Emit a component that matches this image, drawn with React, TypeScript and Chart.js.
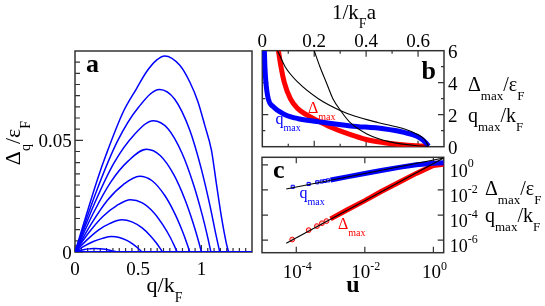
import React, { useEffect, useRef } from 'react';
import { Chart, registerables } from 'chart.js';
Chart.register(...registerables);

const W = 545;
const H = 306;
const FONT = '"Liberation Serif", "Times New Roman", "DejaVu Serif", serif';
const FRAME = '#333333';
const BLUE = '#0000ff';
const RED = '#ff0000';

// ---------- Panel a: Δ_q/ε_F versus q/k_F ----------
const A_Q1 = [0, 0.1775, 0.245, 0.381, 0.487, 0.566, 0.645, 0.71, 0.829, 0.908, 0.973, 1.026, 1.079, 1.118, 1.158, 1.197, 1.215];
const A_D1 = [0, 0.0325, 0.0434, 0.0627, 0.0732, 0.0807, 0.0859, 0.0878, 0.0836, 0.0761, 0.0672, 0.0568, 0.0456, 0.0307, 0.0158, 0.0039, 0];
const A_Q2 = [0, 0.1675, 0.335, 0.5025, 0.67, 0.789, 0.9075, 0.9995, 1.0688, 1.1163, 1.145];
const A_D2 = [0, 0.0269, 0.0495, 0.0648, 0.0728, 0.0684, 0.0546, 0.0371, 0.0204, 0.0073, 0];
const A_Q3 = [0, 0.155, 0.31, 0.465, 0.62, 0.7338, 0.8475, 0.9385, 1.0068, 1.0523, 1.075];
const A_D3 = [0, 0.0218, 0.04, 0.0523, 0.0588, 0.0553, 0.0441, 0.03, 0.0165, 0.0059, 0];
const A_Q4 = [0, 0.1413, 0.2825, 0.4238, 0.565, 0.6738, 0.7825, 0.8695, 0.9348, 0.9783, 1.0];
const A_D4 = [0, 0.017, 0.0313, 0.0409, 0.046, 0.0432, 0.0345, 0.0235, 0.0129, 0.0046, 0];
const A_Q5 = [0, 0.1275, 0.255, 0.3825, 0.51, 0.6095, 0.709, 0.7886, 0.8483, 0.8881, 0.908];
const A_D5 = [0, 0.0125, 0.0231, 0.0302, 0.0339, 0.0319, 0.0254, 0.0173, 0.0095, 0.0034, 0];
const A_Q6 = [0, 0.11, 0.22, 0.33, 0.44, 0.532, 0.624, 0.6976, 0.7528, 0.7896, 0.808];
const A_D6 = [0, 0.0087, 0.0159, 0.0208, 0.0234, 0.022, 0.0176, 0.0119, 0.0066, 0.0023, 0];
const A_Q7 = [0, 0.0925, 0.185, 0.2775, 0.37, 0.4505, 0.531, 0.5954, 0.6437, 0.6759, 0.692];
const A_D7 = [0, 0.0053, 0.0098, 0.0128, 0.0144, 0.0135, 0.0108, 0.0073, 0.004, 0.0014, 0];
const A_Q8 = [0, 0.0725, 0.145, 0.2175, 0.29, 0.35, 0.41, 0.458, 0.494, 0.518, 0.53];
const A_D8 = [0, 0.0026, 0.0047, 0.0061, 0.0069, 0.0065, 0.0052, 0.0035, 0.0019, 0.0007, 0];
const A_Q9 = [0, 0.0375, 0.075, 0.1125, 0.15, 0.195, 0.24, 0.276, 0.303, 0.321, 0.33];
const A_D9 = [0, 0.0006, 0.0011, 0.0014, 0.0016, 0.0015, 0.0012, 0.0008, 0.0004, 0.0002, 0];
const A_ZERO_Q = [0, 1.4];
const A_ZERO_D = [0, 0];
const A_XTICKS = [0, 0.5, 1];
const A_YTICKS = [0, 0.05];

// ---------- Panel b: vs 1/k_F a ----------
const B_QMAX_X = [0.008, 0.01, 0.014, 0.023, 0.042, 0.088, 0.139, 0.21, 0.34, 0.467, 0.55, 0.596, 0.62, 0.635, 0.64];
const B_QMAX_Y = [6.0, 5.0, 4.0, 3.0, 2.5, 2.0, 1.75, 1.58, 1.3, 1.12, 0.88, 0.65, 0.4, 0.15, 0.03];
const B_DMAX_X = [0.062, 0.072, 0.085, 0.108, 0.135, 0.17, 0.21, 0.26, 0.34, 0.4, 0.47, 0.55, 0.64];
const B_DMAX_Y = [6, 5, 4, 3, 2.4, 2.0, 1.65, 1.25, 0.75, 0.45, 0.25, 0.1, 0.02];
const B_BLK1_X = [0.059, 0.088, 0.139, 0.216, 0.302, 0.358, 0.448, 0.551, 0.6, 0.625, 0.64];
const B_BLK1_Y = [6, 5, 4, 3, 2.25, 1.9, 1.5, 1.09, 0.75, 0.45, 0.05];
const B_BLK2_X = [0.2, 0.222, 0.247, 0.272, 0.302, 0.339, 0.403, 0.493, 0.596, 0.64];
const B_BLK2_Y = [6, 5, 4, 3, 2.25, 1.5, 0.8, 0.3, 0.06, 0.02];
const B_XTICKS = [0, 0.2, 0.4, 0.6];
const B_YTICKS = [0, 2, 4, 6];

// ---------- Panel c: log-log vs u ----------
const C_QMAX_SPARSE_U = [7.9e-5, 2.3e-4, 4.1e-4, 5.5e-4, 6.8e-4, 8.5e-4];
const C_QMAX_SPARSE_V = [0.0178, 0.03, 0.041, 0.047, 0.052, 0.058];
const C_QMAX_BAND_U = [1e-3, 3e-3, 0.01, 0.03, 0.1, 0.316, 1, 2];
const C_QMAX_BAND_V = [0.063, 0.11, 0.204, 0.36, 0.63, 1.0, 1.35, 1.48];
const C_DMAX_SPARSE_U = [7.6e-5, 2.3e-4, 4.0e-4, 5.6e-4, 7.6e-4];
const C_DMAX_SPARSE_V = [1.12e-6, 6.3e-6, 1.32e-5, 2.24e-5, 3.3e-5];
const C_DMAX_BAND_U = [1e-3, 3e-3, 0.01, 0.03, 0.1, 0.316, 1, 2];
const C_DMAX_BAND_V = [5e-5, 2.5e-4, 1.41e-3, 7.5e-3, 0.0417, 0.209, 0.89, 1.12];
const C_QFIT_U = [5.1e-5, 2];
const C_QFIT_V = [0.012, 3.5];
const C_DFIT_U = [5.1e-5, 2];
const C_DFIT_V = [5.6e-7, 3.5];
const C_XTICKS = [1e-4, 1e-2, 1];
const C_XLABELS = ['-4', '-2', '0'];
const C_YTICKS = [1, 1e-2, 1e-4, 1e-6];
const C_YLABELS = ['0', '-2', '-4', '-6'];

type Kind = 'n' | 'sub' | 'sup';
type Seg = [string, Kind];

function drawRich(ctx: CanvasRenderingContext2D, segs: Seg[], x: number, y: number, size: number,
  align: 'left' | 'center' | 'right', color: string, bold = false, subOff = 0.45, supOff = 0.48) {
  const fontFor = (k: Kind) => `${bold ? 'bold ' : ''}${k === 'n' ? size : Math.round(size * 0.65)}px ${FONT}`;
  let w = 0;
  for (const [t, k] of segs) { ctx.font = fontFor(k); w += ctx.measureText(t).width; }
  let cx = align === 'left' ? x : align === 'center' ? x - w / 2 : x - w;
  ctx.fillStyle = color;
  ctx.textBaseline = 'alphabetic';
  ctx.textAlign = 'left';
  for (const [t, k] of segs) {
    ctx.font = fontFor(k);
    const dy = k === 'sub' ? size * subOff : k === 'sup' ? -size * supOff : 0;
    ctx.fillText(t, cx, y + dy);
    cx += ctx.measureText(t).width;
  }
}

function drawFrame(c: any) {
  const ctx = c.ctx, a = c.chartArea;
  ctx.strokeStyle = FRAME;
  ctx.lineWidth = 1.5;
  ctx.strokeRect(a.left, a.top, a.right - a.left, a.bottom - a.top);
}

function ticksX(c: any, vals: number[], len: number, top: boolean, bottom: boolean) {
  const ctx = c.ctx, a = c.chartArea, s = c.scales.x;
  ctx.strokeStyle = FRAME; ctx.lineWidth = 1.2;
  ctx.beginPath();
  for (const v of vals) {
    const p = s.getPixelForValue(v);
    if (bottom) { ctx.moveTo(p, a.bottom); ctx.lineTo(p, a.bottom - len); }
    if (top) { ctx.moveTo(p, a.top); ctx.lineTo(p, a.top + len); }
  }
  ctx.stroke();
}

function ticksY(c: any, vals: number[], len: number, left: boolean, right: boolean) {
  const ctx = c.ctx, a = c.chartArea, s = c.scales.y;
  ctx.strokeStyle = FRAME; ctx.lineWidth = 1.2;
  ctx.beginPath();
  for (const v of vals) {
    const p = s.getPixelForValue(v);
    if (left) { ctx.moveTo(a.left, p); ctx.lineTo(a.left + len, p); }
    if (right) { ctx.moveTo(a.right, p); ctx.lineTo(a.right - len, p); }
  }
  ctx.stroke();
}

const pts = (xs: number[], ys: number[]) => xs.map((x, i) => ({ x, y: ys[i] }));
const lineDs = (xs: number[], ys: number[], color: string, width: number, extra: any = {}) => ({
  data: pts(xs, ys), showLine: true, borderColor: color, backgroundColor: color,
  borderWidth: width, pointRadius: 0, fill: false, ...extra,
});

function baseOptions(pad: any, scales: any) {
  return {
    responsive: false, animation: false, devicePixelRatio: 1, events: [],
    layout: { padding: pad },
    plugins: { legend: { display: false }, tooltip: { enabled: false } },
    scales,
  };
}

function makeA(canvas: HTMLCanvasElement) {
  const mono = { cubicInterpolationMode: 'monotone' };
  const curves: [number[], number[]][] = [
    [A_Q1, A_D1], [A_Q2, A_D2], [A_Q3, A_D3], [A_Q4, A_D4], [A_Q5, A_D5],
    [A_Q6, A_D6], [A_Q7, A_D7], [A_Q8, A_D8], [A_Q9, A_D9],
  ];
  const plugin = {
    id: 'decoA',
    beforeDatasetsDraw(c: any) {
      const ctx = c.ctx; ctx.save();
      drawFrame(c);
      const minX: number[] = []; for (let i = 1; i < 28; i++) if (i % 10 !== 0) minX.push(i * 0.05);
      const minY: number[] = []; for (let i = 1; i < 18; i++) if (i % 10 !== 0) minY.push(i * 0.005);
      ticksX(c, minX, 4, false, true);
      ticksX(c, A_XTICKS, 7, false, true);
      ticksY(c, minY, 5, true, false);
      ticksY(c, A_YTICKS, 8, true, false);
      ctx.restore();
    },
    afterDraw(c: any) {
      const ctx = c.ctx, a = c.chartArea, xs = c.scales.x, ys = c.scales.y;
      ctx.save();
      for (const v of A_YTICKS) drawRich(ctx, [[v === 0 ? '0' : '0.05', 'n']], a.left - 3.3, ys.getPixelForValue(v) + 7, 19, 'right', '#000');
      for (const v of A_XTICKS) drawRich(ctx, [[String(v), 'n']], xs.getPixelForValue(v), a.bottom + 23, 19, 'center', '#000');
      drawRich(ctx, [['q/k', 'n'], ['F', 'sub']], (a.left + a.right) / 2 + 1, 292, 22, 'center', '#000');
      ctx.save();
      ctx.translate(20, 143);
      ctx.rotate(-Math.PI / 2);
      drawRich(ctx, [['Δ', 'n'], ['q', 'sub'], ['/ε', 'n'], ['F', 'sub']], 0, 0, 22, 'center', '#000');
      ctx.restore();
      drawRich(ctx, [['a', 'n']], 86, 72, 26, 'left', '#000', true);
      ctx.restore();
    },
  };
  return new Chart(canvas, {
    type: 'scatter',
    data: {
      datasets: [
        lineDs(A_ZERO_Q, A_ZERO_D, BLUE, 2),
        ...curves.map(([q, d]) => lineDs(q, d, BLUE, 1.5, mono)),
      ],
    },
    options: baseOptions({ left: 75, top: 51, right: 293, bottom: 54 }, {
      x: { type: 'linear', min: 0, max: 1.4, display: false },
      y: { type: 'linear', min: 0, max: 0.09, display: false },
    }),
    plugins: [plugin],
  } as any);
}

function makeB(canvas: HTMLCanvasElement) {
  const mono = { cubicInterpolationMode: 'monotone' };
  const plugin = {
    id: 'decoB',
    beforeDatasetsDraw(c: any) {
      const ctx = c.ctx; ctx.save();
      drawFrame(c);
      ticksX(c, [0.1, 0.3, 0.5], 3, true, true);
      ticksX(c, [0.2, 0.4, 0.6], 6, true, true);
      ticksY(c, [1, 3, 5], 3, true, true);
      ticksY(c, [2, 4], 6, true, true);
      ctx.restore();
    },
    afterDraw(c: any) {
      const ctx = c.ctx, a = c.chartArea, xs = c.scales.x, ys = c.scales.y;
      ctx.save();
      for (const v of B_XTICKS) drawRich(ctx, [[String(v), 'n']], xs.getPixelForValue(v), a.top - 4, 19, 'center', '#000');
      for (const v of B_YTICKS) drawRich(ctx, [[String(v), 'n']], a.right + 4, ys.getPixelForValue(v) + 7, 19, 'left', '#000');
      drawRich(ctx, [['1/k', 'n'], ['F', 'sub'], ['a', 'n']], 354, 18.5, 21, 'center', '#000');
      drawRich(ctx, [['Δ', 'n'], ['max', 'sub'], ['/ε', 'n'], ['F', 'sub']], 468, 90.5, 20, 'left', '#000');
      drawRich(ctx, [['q', 'n'], ['max', 'sub'], ['/k', 'n'], ['F', 'sub']], 468, 121.5, 20, 'left', '#000');
      drawRich(ctx, [['b', 'n']], 421.5, 79.3, 26, 'left', '#000', true);
      drawRich(ctx, [['q', 'n'], ['max', 'sub']], 275.5, 124, 16, 'left', BLUE);
      drawRich(ctx, [['Δ', 'n'], ['max', 'sub']], 308, 112.5, 16, 'left', RED);
      ctx.restore();
    },
  };
  return new Chart(canvas, {
    type: 'scatter',
    data: {
      datasets: [
        lineDs(B_BLK1_X, B_BLK1_Y, '#000', 1.1, mono),
        lineDs(B_BLK2_X, B_BLK2_Y, '#000', 1.1, mono),
        lineDs(B_QMAX_X, B_QMAX_Y, BLUE, 5, mono),
        lineDs(B_DMAX_X, B_DMAX_Y, RED, 5, mono),
      ],
    },
    options: baseOptions({ left: 262.3, top: 50.7, right: 101, bottom: 159.3 }, {
      x: { type: 'linear', min: 0, max: 0.7, position: 'top', display: false },
      y: { type: 'linear', min: 0, max: 6, position: 'right', display: false },
    }),
    plugins: [plugin],
  } as any);
}

function makeC(canvas: HTMLCanvasElement) {
  const plugin = {
    id: 'decoC',
    beforeDatasetsDraw(c: any) {
      const ctx = c.ctx; ctx.save();
      drawFrame(c);
      ticksX(c, C_XTICKS, 6, true, true);
      ticksY(c, C_YTICKS, 6, true, true);
      ctx.restore();
    },
    afterDraw(c: any) {
      const ctx = c.ctx, a = c.chartArea, xs = c.scales.x, ys = c.scales.y;
      ctx.save();
      C_YTICKS.forEach((v, i) => drawRich(ctx, [['10', 'n'], [C_YLABELS[i], 'sup']], a.right + 6, ys.getPixelForValue(v) + 12, 18, 'left', '#000', false, 0.45, 0.52));
      C_XTICKS.forEach((v, i) => drawRich(ctx, [['10', 'n'], [C_XLABELS[i], 'sup']], xs.getPixelForValue(v) + 1, a.bottom + 25.6, 19, 'center', '#000', false, 0.45, 0.46));
      drawRich(ctx, [['u', 'n']], (a.left + a.right) / 2, 292, 24, 'center', '#000', true);
      drawRich(ctx, [['Δ', 'n'], ['max', 'sub'], ['/ε', 'n'], ['F', 'sub']], 485, 195, 20, 'left', '#000');
      drawRich(ctx, [['q', 'n'], ['max', 'sub'], ['/k', 'n'], ['F', 'sub']], 485, 221.5, 20, 'left', '#000');
      drawRich(ctx, [['c', 'n']], 273, 178, 26, 'left', '#000', true);
      drawRich(ctx, [['q', 'n'], ['max', 'sub']], 299.5, 197.5, 16, 'left', BLUE);
      drawRich(ctx, [['Δ', 'n'], ['max', 'sub']], 338, 228.5, 16, 'left', RED);
      ctx.restore();
    },
  };
  return new Chart(canvas, {
    type: 'scatter',
    data: {
      datasets: [
        lineDs(C_QFIT_U, C_QFIT_V, '#000', 1.1),
        lineDs(C_DFIT_U, C_DFIT_V, '#000', 1.1),
        { data: pts(C_QMAX_SPARSE_U, C_QMAX_SPARSE_V), showLine: false, pointStyle: 'rect', pointRadius: 2.2, borderColor: BLUE, backgroundColor: 'rgba(0,0,255,0.25)', borderWidth: 1 },
        { data: pts(C_DMAX_SPARSE_U, C_DMAX_SPARSE_V), showLine: false, pointStyle: 'circle', pointRadius: 2.4, borderColor: RED, backgroundColor: 'rgba(255,0,0,0.25)', borderWidth: 1 },
        lineDs(C_QMAX_BAND_U, C_QMAX_BAND_V, BLUE, 5),
        lineDs(C_DMAX_BAND_U, C_DMAX_BAND_V, RED, 5),
      ],
    },
    options: baseOptions({ left: 262, top: 157.3, right: 101.3, bottom: 53.3 }, {
      x: { type: 'logarithmic', min: 1e-5, max: 2, display: false },
      y: { type: 'logarithmic', min: 1e-7, max: 4, position: 'right', display: false },
    }),
    plugins: [plugin],
  } as any);
}

export default function App() {
  const ra = useRef<HTMLCanvasElement>(null);
  const rb = useRef<HTMLCanvasElement>(null);
  const rc = useRef<HTMLCanvasElement>(null);
  useEffect(() => {
    const charts = [makeA(ra.current!), makeB(rb.current!), makeC(rc.current!)];
    return () => charts.forEach((ch) => ch.destroy());
  }, []);
  const st: React.CSSProperties = { position: 'absolute', left: 0, top: 0 };
  return (
    <div style={{ position: 'absolute', left: 0, top: 0, width: W, height: H, background: '#fff' }}>
      <canvas ref={ra} width={W} height={H} style={st} />
      <canvas ref={rb} width={W} height={H} style={st} />
      <canvas ref={rc} width={W} height={H} style={st} />
    </div>
  );
}
